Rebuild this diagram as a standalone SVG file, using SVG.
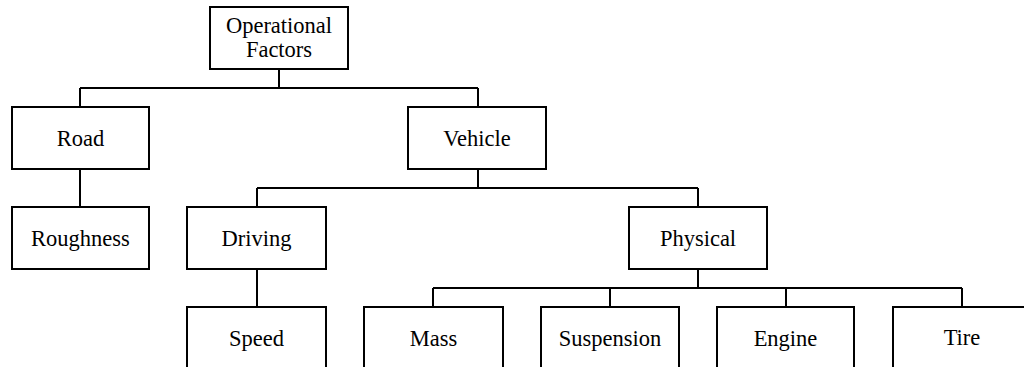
<svg xmlns="http://www.w3.org/2000/svg" width="1024" height="367" viewBox="0 0 1024 367">
<style>
.box{fill:#fff;stroke:#000;stroke-width:2}
.lbl{font-family:"Liberation Serif","Times New Roman",serif;font-size:22.5px;fill:#000;text-anchor:middle}
.conn{fill:none;stroke:#000;stroke-width:2}
</style>
<rect width="1024" height="367" fill="#fff"/>
<g id="connectors" class="conn">
<path d="M279,69 V88 M80,88 H478 M80,88 V107 M478,88 V107"/>
<path d="M80,169 V207"/>
<path d="M478,169 V188 M257,188 H698 M257,188 V207 M698,188 V207"/>
<path d="M257,269 V307"/>
<path d="M698,269 V288 M433,288 H962 M433,288 V307 M610,288 V307 M786,288 V307 M962,288 V307"/>
</g>
<g id="operational-factors"><rect class="box" x="210" y="7" width="138" height="62"/><text class="lbl" x="279" y="33">Operational</text><text class="lbl" x="279" y="57">Factors</text></g>
<g id="road"><rect class="box" x="12" y="107" width="137" height="62"/><text class="lbl" x="80.5" y="145.5">Road</text></g>
<g id="vehicle"><rect class="box" x="408" y="107" width="138" height="62"/><text class="lbl" x="477" y="145.5">Vehicle</text></g>
<g id="roughness"><rect class="box" x="12" y="207" width="137" height="62"/><text class="lbl" x="80.5" y="245.5">Roughness</text></g>
<g id="driving"><rect class="box" x="187" y="207" width="139" height="62"/><text class="lbl" x="256.5" y="245.5">Driving</text></g>
<g id="physical"><rect class="box" x="629" y="207" width="138" height="62"/><text class="lbl" x="698" y="245.5">Physical</text></g>
<g id="speed"><rect class="box" x="187" y="307" width="139" height="62"/><text class="lbl" x="256.5" y="345.5">Speed</text></g>
<g id="mass"><rect class="box" x="364" y="307" width="139" height="62"/><text class="lbl" x="433.5" y="345.5">Mass</text></g>
<g id="suspension"><rect class="box" x="541" y="307" width="138" height="62"/><text class="lbl" x="610" y="345.5">Suspension</text></g>
<g id="engine"><rect class="box" x="717" y="307" width="137" height="62"/><text class="lbl" x="785.5" y="345.5">Engine</text></g>
<g id="tire"><rect class="box" x="893" y="307" width="138" height="62"/><text class="lbl" x="962" y="345">Tire</text></g>
</svg>
